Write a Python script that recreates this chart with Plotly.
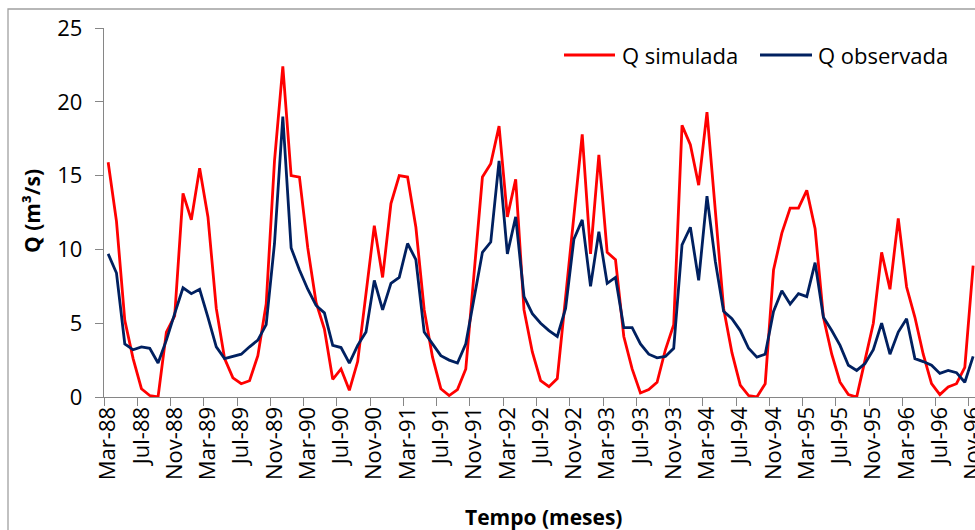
import pandas as pd
import plotly.graph_objects as go

# Monthly flow series, March 1988 to November 1996 (m³/s)
q_simulada = [
    15.9, 11.9, 5.2, 2.6, 0.56, 0.1, 0.0, 4.4, 5.5, 13.8, 12.0, 15.5,
    12.2, 6.0, 2.6, 1.3, 0.9, 1.1, 2.8, 6.3, 16.0, 22.4, 15.0, 14.9,
    10.1, 6.4, 4.6, 1.2, 1.9, 0.45, 2.4, 7.0, 11.6, 8.1, 13.1, 15.0,
    14.9, 11.5, 5.9, 2.7, 0.56, 0.1, 0.5, 1.9, 8.4, 14.9, 15.8, 18.35,
    12.2, 14.75, 5.9, 3.05, 1.1, 0.7, 1.25, 6.9, 12.4, 17.8, 9.7, 16.4,
    9.8, 9.3, 4.1, 1.9, 0.27, 0.5, 1.0, 3.2, 4.9, 18.4, 17.1, 14.35,
    19.3, 12.7, 6.0, 3.0, 0.8, 0.1, 0.0, 0.9, 8.6, 11.1, 12.8, 12.8,
    14.0, 11.4, 5.4, 2.9, 1.0, 0.16, 0.0, 2.5, 5.0, 9.8, 7.3, 12.1,
    7.45, 5.4, 2.9, 0.9, 0.16, 0.68, 0.9, 2.0, 8.9,
]
q_observada = [
    9.7, 8.4, 3.6, 3.2, 3.4, 3.3, 2.3, 3.85, 5.65, 7.4, 7.0, 7.3,
    5.4, 3.4, 2.6, 2.75, 2.9, 3.4, 3.85, 4.9, 10.4, 19.0, 10.1, 8.6,
    7.3, 6.2, 5.7, 3.5, 3.35, 2.3, 3.5, 4.4, 7.9, 5.9, 7.7, 8.1,
    10.4, 9.3, 4.4, 3.6, 2.8, 2.5, 2.3, 3.6, 6.8, 9.8, 10.5, 16.0,
    9.7, 12.2, 6.8, 5.65, 5.0, 4.5, 4.1, 6.0, 10.7, 12.0, 7.5, 11.2,
    7.7, 8.1, 4.7, 4.7, 3.6, 2.9, 2.65, 2.75, 3.3, 10.3, 11.5, 7.9,
    13.6, 9.2, 5.8, 5.3, 4.5, 3.3, 2.7, 2.9, 5.8, 7.2, 6.3, 7.0,
    6.8, 9.1, 5.4, 4.5, 3.5, 2.15, 1.8, 2.26, 3.2, 5.0, 2.9, 4.4,
    5.3, 2.6, 2.4, 2.15, 1.6, 1.8, 1.65, 1.0, 2.75,
]

# Month labels such as "Mar-88"
meses = [d.strftime("%b-%y") for d in pd.date_range("1988-03-01", periods=len(q_simulada), freq="MS")]
rotulos_x = meses[::4]
ticks_y = [0, 5, 10, 15, 20, 25]

W, H = 975, 530
ML, MR, MT, MB = 104, 0, 28, 133
PW, PH = W - ML - MR, H - MT - MB
PX_PER_MONTH = 8.317

def px(x):
    return (x - ML) / PW

def py(y):
    return (H - MB - y) / PH

FONT = "Open Sans"
GRAY = "#868686"
RED = "#FF0000"
NAVY = "#002060"

fig = go.Figure()
fig.add_trace(go.Scatter(x=meses, y=q_simulada, mode="lines", name="Q simulada",
                         line=dict(color=RED, width=2.8), cliponaxis=True))
fig.add_trace(go.Scatter(x=meses, y=q_observada, mode="lines", name="Q observada",
                         line=dict(color=NAVY, width=2.8), cliponaxis=True))

fig.update_layout(
    width=W, height=H,
    margin=dict(l=ML, r=MR, t=MT, b=MB, pad=0, autoexpand=False),
    paper_bgcolor="white", plot_bgcolor="white",
    showlegend=False,
    font=dict(family=FONT, color="black", size=22),
)
fig.update_xaxes(
    type="category", range=[-0.5, -0.5 + PW / PX_PER_MONTH], automargin=False,
    tickmode="array", tickvals=rotulos_x, ticktext=rotulos_x,
    tickson="boundaries", ticks="outside", ticklen=8, tickcolor=GRAY, tickwidth=1.3,
    tickangle=-90, tickfont=dict(size=22, family=FONT),
    showline=True, linecolor=GRAY, linewidth=1.3, showgrid=False, zeroline=False,
)
fig.update_yaxes(
    range=[0, 25], tickmode="array", tickvals=ticks_y, automargin=False,
    ticks="outside", ticklen=8, tickcolor=GRAY, tickwidth=1.3,
    ticklabelstandoff=8, tickfont=dict(size=22, family=FONT),
    showline=True, linecolor=GRAY, linewidth=1.3, showgrid=False, zeroline=False,
)

# Chart frame
fig.add_shape(type="rect", xref="paper", yref="paper",
              x0=px(8), x1=px(1100), y0=py(700), y1=py(9),
              line=dict(color="#A0A0A0", width=1.3), fillcolor="rgba(0,0,0,0)", layer="below")

# Legend
leg_y = py(55)
for x0, x1, color, tx, label in [(564, 615, RED, 620, "Q simulada"),
                                 (760, 812, NAVY, 816, "Q observada")]:
    fig.add_shape(type="line", xref="paper", yref="paper", x0=px(x0), x1=px(x1),
                  y0=leg_y, y1=leg_y, line=dict(color=color, width=2.8))
    fig.add_annotation(xref="paper", yref="paper", x=px(tx), y=py(55), text=label,
                       showarrow=False, xanchor="left", yanchor="middle",
                       font=dict(size=22, family=FONT))

# Axis titles
fig.add_annotation(xref="paper", yref="paper", x=px(543), y=py(517),
                   text="<b>Tempo (meses)</b>", showarrow=False,
                   xanchor="center", yanchor="middle", font=dict(size=21, family=FONT))
fig.add_annotation(xref="paper", yref="paper", x=px(32), y=py(211),
                   text="<b>Q (m³/s)</b>", showarrow=False, textangle=-90,
                   xanchor="center", yanchor="middle", font=dict(size=21, family=FONT))

fig.write_html("out.html")
